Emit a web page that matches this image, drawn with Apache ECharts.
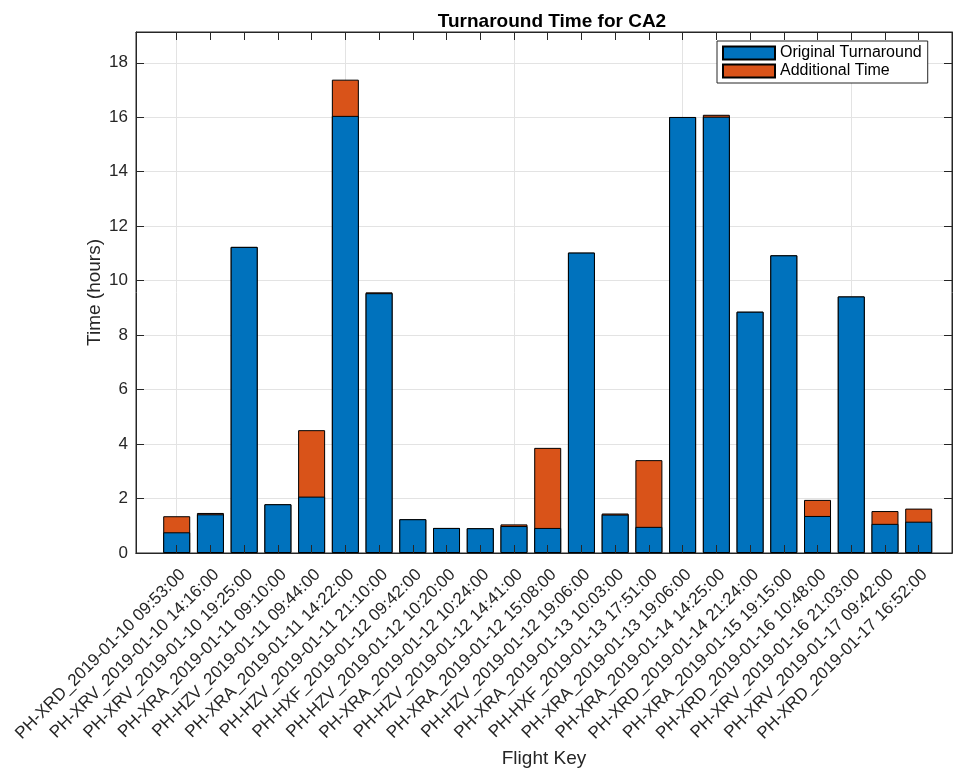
<!DOCTYPE html>
<html>
<head>
<meta charset="utf-8">
<script src="https://cdn.jsdelivr.net/npm/echarts@6/dist/echarts.min.js"></script>
<style>html,body{margin:0;padding:0;background:#fff}#c{width:953px;height:771px}</style>
</head>
<body>
<div id="c"></div>
<script>
const categories = [
  'PH-XRD_2019-01-10 09:53:00','PH-XRV_2019-01-10 14:16:00','PH-XRV_2019-01-10 19:25:00',
  'PH-XRA_2019-01-11 09:10:00','PH-HZV_2019-01-11 09:44:00','PH-XRA_2019-01-11 14:22:00',
  'PH-HZV_2019-01-11 21:10:00','PH-HXF_2019-01-12 09:42:00','PH-HZV_2019-01-12 10:20:00',
  'PH-XRA_2019-01-12 10:24:00','PH-HZV_2019-01-12 14:41:00','PH-XRA_2019-01-12 15:08:00',
  'PH-HZV_2019-01-12 19:06:00','PH-XRA_2019-01-13 10:03:00','PH-HXF_2019-01-13 17:51:00',
  'PH-XRA_2019-01-13 19:06:00','PH-XRA_2019-01-14 14:25:00','PH-XRD_2019-01-14 21:24:00',
  'PH-XRA_2019-01-15 19:15:00','PH-XRD_2019-01-16 10:48:00','PH-XRV_2019-01-16 21:03:00',
  'PH-XRV_2019-01-17 09:42:00','PH-XRD_2019-01-17 16:52:00'
];
const originalTurnaround = [0.76,1.42,11.24,1.79,2.07,16.05,9.54,1.24,0.92,0.91,0.99,0.92,11.03,1.41,0.96,16.01,16.02,8.86,10.93,1.36,9.42,1.07,1.15];
const additionalTime     = [0.59,0.05,0,0,2.44,1.33,0.03,0,0,0,0.06,2.94,0,0.04,2.45,0,0.07,0,0,0.59,0,0.47,0.48];
const yTicks = [0,2,4,6,8,10,12,14,16,18];

const xIdx = categories.map((_, i) => i);
const totals = originalTurnaround.map((v, i) => v + additionalTime[i]);
const tc = '#262626';
const chart = echarts.init(document.getElementById('c'), null, {renderer: 'canvas'});
const font = 'Liberation Sans, Arial, Helvetica, sans-serif';
const gridColor = '#e3e3e3';
const XMIN = -1.207, XMAX = 22.987;

chart.setOption({
  animation: false,
  textStyle: {fontFamily: font},
  title: {
    text: 'Turnaround Time for CA2', left: 547, top: 7, textAlign: 'center',
    textStyle: {fontSize: 19, fontWeight: 'bold', color: '#000', fontFamily: font}
  },
  legend: {
    orient: 'vertical', left: 717, top: 41,
    padding: [3, 6, 3, 5], itemGap: 0, itemWidth: 52, itemHeight: 13, icon: 'rect',
    backgroundColor: '#fff', borderColor: tc, borderWidth: 1,
    textStyle: {fontSize: 16, color: '#000', lineHeight: 18, fontFamily: font},
    data: ['Original Turnaround', 'Additional Time']
  },
  grid: {left: 136, right: 1, top: 32, bottom: 218, show: true, borderColor: tc, borderWidth: 1,
         backgroundColor: 'transparent', containLabel: false, outerBoundsMode: 'none'},
  xAxis: [{
    type: 'value', min: XMIN, max: XMAX,
    name: 'Flight Key', nameLocation: 'middle', nameGap: 196, nameMoveOverlap: false,
    nameTextStyle: {fontSize: 19, color: tc, fontFamily: font},
    axisLine: {show: true, onZero: false, lineStyle: {color: tc}},
    axisTick: {show: false},
    axisLabel: {
      show: true, rotate: 45, fontSize: 17, color: tc, margin: 13, verticalAlign: 'top', fontFamily: font,
      customValues: xIdx, formatter: v => categories[Math.round(v)]
    },
    splitLine: {show: true, lineStyle: {color: gridColor}}
  }, {
    type: 'value', position: 'top', min: XMIN, max: XMAX,
    axisLine: {show: true, onZero: false, lineStyle: {color: tc}},
    axisTick: {show: true, inside: true, length: 8, lineStyle: {color: tc}, customValues: xIdx},
    axisLabel: {show: false}, splitLine: {show: false}
  }, {
    type: 'value', position: 'bottom', min: XMIN, max: XMAX, z: 10,
    axisLine: {show: true, onZero: false, lineStyle: {color: tc}},
    axisTick: {show: true, inside: true, length: 8, lineStyle: {color: tc}, customValues: xIdx},
    axisLabel: {show: false}, splitLine: {show: false}
  }],
  yAxis: [{
    type: 'value', min: 0, max: 19.13, interval: 2,
    name: 'Time (hours)', nameLocation: 'middle', nameGap: 32, nameMoveOverlap: false,
    nameTextStyle: {fontSize: 19, color: tc, fontFamily: font},
    axisLine: {show: true, onZero: false, lineStyle: {color: tc}},
    axisTick: {show: true, inside: true, length: 8, lineStyle: {color: tc}, customValues: yTicks},
    axisLabel: {fontSize: 17, color: tc, margin: 8, fontFamily: font, customValues: yTicks},
    splitLine: {show: true, lineStyle: {color: gridColor}}
  }, {
    type: 'value', position: 'right', min: 0, max: 19.13, interval: 2,
    axisLine: {show: true, onZero: false, lineStyle: {color: tc}},
    axisTick: {show: true, inside: true, length: 8, lineStyle: {color: tc}, customValues: yTicks},
    axisLabel: {show: false}, splitLine: {show: false}
  }],
  series: [{
    name: 'Original Turnaround', type: 'bar', barWidth: 27, barGap: '-100%', z: 3,
    itemStyle: {color: '#0072BD', borderColor: '#000', borderWidth: 1},
    data: originalTurnaround.map((v, i) => [i, v])
  }, {
    name: 'Additional Time', type: 'bar', barWidth: 27, barGap: '-100%', z: 2,
    itemStyle: {color: '#D95319', borderColor: '#000', borderWidth: 1},
    data: totals.map((v, i) => [i, v])
  }]
});
</script>
</body>
</html>
